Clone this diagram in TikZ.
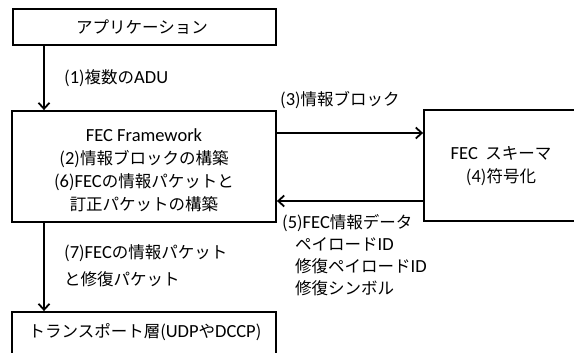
\documentclass[tikz,border=0pt]{standalone}
\usepackage{fontspec}
\setmainfont{Noto Sans CJK JP}
\newfontfamily\lat[Scale=1.12]{Carlito}
\usetikzlibrary{arrows.meta}
\begin{document}
\begin{tikzpicture}[x=1pt,y=-1pt,
  box/.style={draw,line width=1.8pt,rectangle,inner sep=0pt},
  txt/.style={inner sep=0pt,font=\fontsize{16.5}{23}\selectfont},
  arr/.style={line width=1.8pt,-{Straight Barb[length=6pt,width=11pt,line width=1.8pt]}}]
\useasboundingbox (0,0) rectangle (574,353);
\node[box,minimum width=263pt,minimum height=36pt] (app) at (144.5,27) {};
\node[txt] (appt) at (142,27) {アプリケーション};
\node[box,minimum width=264pt,minimum height=111pt] (fec) at (144,166.5) {};
\node[txt,align=center] (fect) at (144,170.5) {{\lat FEC Framework}\\({\lat 2})情報ブロックの構築\\({\lat 6}){\lat FEC}の情報パケットと\\訂正パケットの構築};
\node[box,minimum width=176pt,minimum height=111pt] (sch) at (512,165.5) {};
\node[txt,align=center] (scht) at (501,166) {{\lat FEC}\ \ スキーマ\\({\lat 4})符号化};
\node[box,minimum width=264pt,minimum height=60pt] (tr) at (144,342) {};
\node[txt] (trt) at (145,332) {トランスポート層({\lat UDP}や{\lat DCCP})};
\coordinate (cx) at (44,0);
\coordinate (y3) at (0,133);
\coordinate (y5) at (0,201);
\draw[arr] (app.south -| cx) -- (fec.north -| cx);
\draw[arr] (fec.east |- y3) -- (sch.west |- y3);
\draw[arr] (sch.west |- y5) -- (fec.east |- y5);
\draw[arr] (fec.south -| cx) -- (tr.north -| cx);
\node[txt,anchor=west] (l1) at (64,78) {({\lat 1})複数の{\lat ADU}};
\node[txt,anchor=west] (l3) at (280,100) {({\lat 3})情報ブロック};
\node[txt,anchor=north west,align=left,font=\fontsize{16.5}{22}\selectfont] (l5) at (282,214) {({\lat 5}){\lat FEC}情報データ\\\hspace{13pt}ペイロード{\lat ID}\\\hspace{13pt}修復ペイロード{\lat ID}\\\hspace{13pt}修復シンボル};
\node[txt,anchor=north west,align=left,font=\fontsize{16.5}{27}\selectfont] (l7) at (64,244) {({\lat 7}){\lat FEC}の情報パケット\\と修復パケット};
\end{tikzpicture}
\end{document}
